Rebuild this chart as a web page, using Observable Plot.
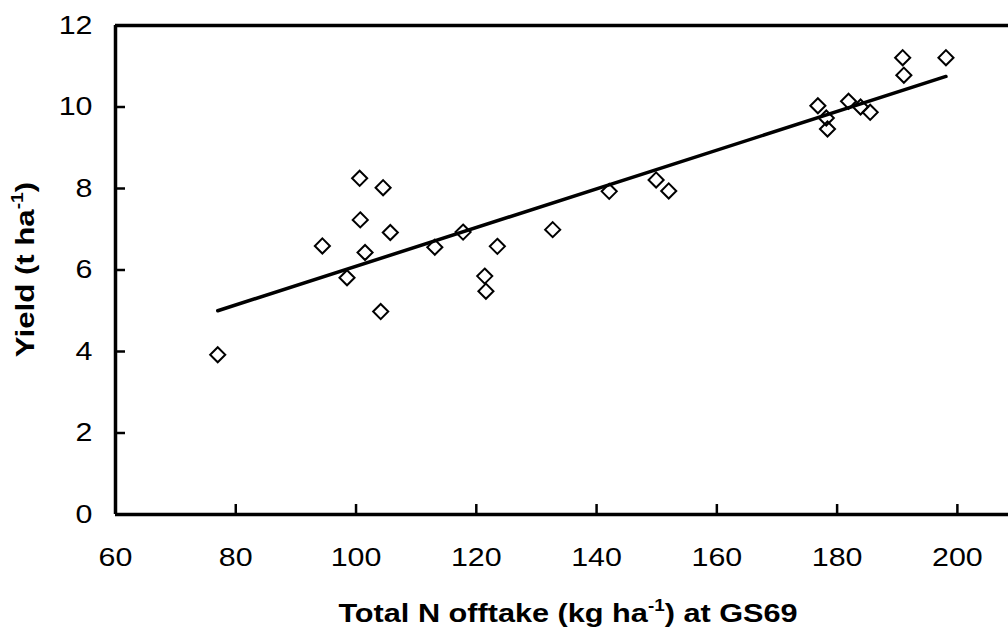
<!DOCTYPE html>
<html>
<head>
<meta charset="utf-8">
<script src="https://cdn.jsdelivr.net/npm/d3@7"></script>
<script src="https://cdn.jsdelivr.net/npm/@observablehq/plot@0.6"></script>
<style>
  html, body { margin: 0; padding: 0; background: #fff; }
  #chart svg { display: block; }
</style>
</head>
<body>
<div id="chart"></div>
<script>
// Total N offtake (kg/ha) at GS69
const nOfftake = [77.0, 94.4, 98.5, 100.6, 100.7, 101.5, 104.1, 104.5, 105.7, 113.1, 117.8,
  121.4, 121.6, 123.5, 132.7, 142.1, 149.9, 152.0, 176.8, 178.2, 178.4, 181.9, 183.9, 185.5,
  190.9, 191.1, 198.1];
// Yield (t/ha)
const yieldT = [3.92, 6.59, 5.81, 8.25, 7.23, 6.43, 4.98, 8.02, 6.92, 6.56, 6.93,
  5.85, 5.48, 6.58, 6.99, 7.93, 8.21, 7.94, 10.03, 9.73, 9.46, 10.14, 10.0, 9.87,
  11.21, 10.78, 11.21];
// Fitted trend line end points
const trendX = [77.0, 198.1];
const trendY = [5.0, 10.75];

const xTicks = [60, 80, 100, 120, 140, 160, 180, 200];
const yTicks = [0, 2, 4, 6, 8, 10, 12];
const xDomain = [60, 208.5];
const yDomain = [0, 12];

const points = nOfftake.map((x, i) => ({x, y: yieldT[i]}));
const trend = trendX.map((x, i) => ({x, y: trendY[i]}));

const W = 1008, H = 634;
const mL = 115, mR = 0, mT = 25, mB = 120;
const plotW = W - mL - mR, plotH = H - mT - mB;
const tickLen = 10;
const stretch = 1.17;

const chart = Plot.plot({
  width: W,
  height: H,
  marginLeft: mL,
  marginRight: mR,
  marginTop: mT,
  marginBottom: mB,
  style: {fontFamily: "'Liberation Sans', Arial, sans-serif", fontSize: "26px", background: "#fff", color: "#000", overflow: "visible"},
  x: {domain: xDomain},
  y: {domain: yDomain},
  marks: [
    Plot.axisX(xTicks, {tickSize: 0, tickPadding: 33, fontSize: 26, label: null}),
    Plot.axisY(yTicks, {tickSize: 0, tickPadding: 23, fontSize: 26, label: null}),
    Plot.tickX(xTicks, {x: d => d, insetTop: plotH - tickLen, stroke: "#000", strokeWidth: 2.5}),
    Plot.tickY(yTicks, {y: d => d, insetRight: plotW - tickLen, stroke: "#000", strokeWidth: 2.5}),
    Plot.ruleY([yDomain[0]], {stroke: "#000", strokeWidth: 3.5}),
    Plot.ruleY([yDomain[1]], {stroke: "#000", strokeWidth: 3.5}),
    Plot.ruleX([xDomain[0]], {stroke: "#000", strokeWidth: 3.5}),
    Plot.line(trend, {x: "x", y: "y", stroke: "#000", strokeWidth: 3.5}),
    Plot.dot(points, {x: "x", y: "y", symbol: "diamond2", r: 6.8, stroke: "#000", strokeWidth: 2, fill: "none"})
  ]
});

document.getElementById("chart").appendChild(chart);

const svg = d3.select(chart);
// widen tick labels along their reading direction, as in the reference
svg.selectAll("text").each(function() {
  const t = d3.select(this);
  const tr = t.attr("transform");
  if (tr) t.attr("transform", tr + ` scale(${stretch},1)`);
});

// Axis titles with superscripts
const xt = svg.append("text")
  .attr("transform", `translate(568,622) scale(1.18,1)`)
  .attr("text-anchor", "middle")
  .attr("font-weight", "bold")
  .attr("font-size", 26)
  .attr("fill", "#000");
xt.append("tspan").text("Total N offtake (kg ha");
xt.append("tspan").attr("font-size", 16).attr("dy", -11).text("-1");
xt.append("tspan").attr("dy", 11).text(") at GS69");

const yt = svg.append("text")
  .attr("transform", `translate(34,${mT + plotH / 2}) rotate(-90) scale(1.2,1)`)
  .attr("text-anchor", "middle")
  .attr("font-weight", "bold")
  .attr("font-size", 26)
  .attr("fill", "#000");
yt.append("tspan").text("Yield (t ha");
yt.append("tspan").attr("font-size", 16).attr("dy", -11).text("-1");
yt.append("tspan").attr("dy", 11).text(")");
</script>
</body>
</html>
